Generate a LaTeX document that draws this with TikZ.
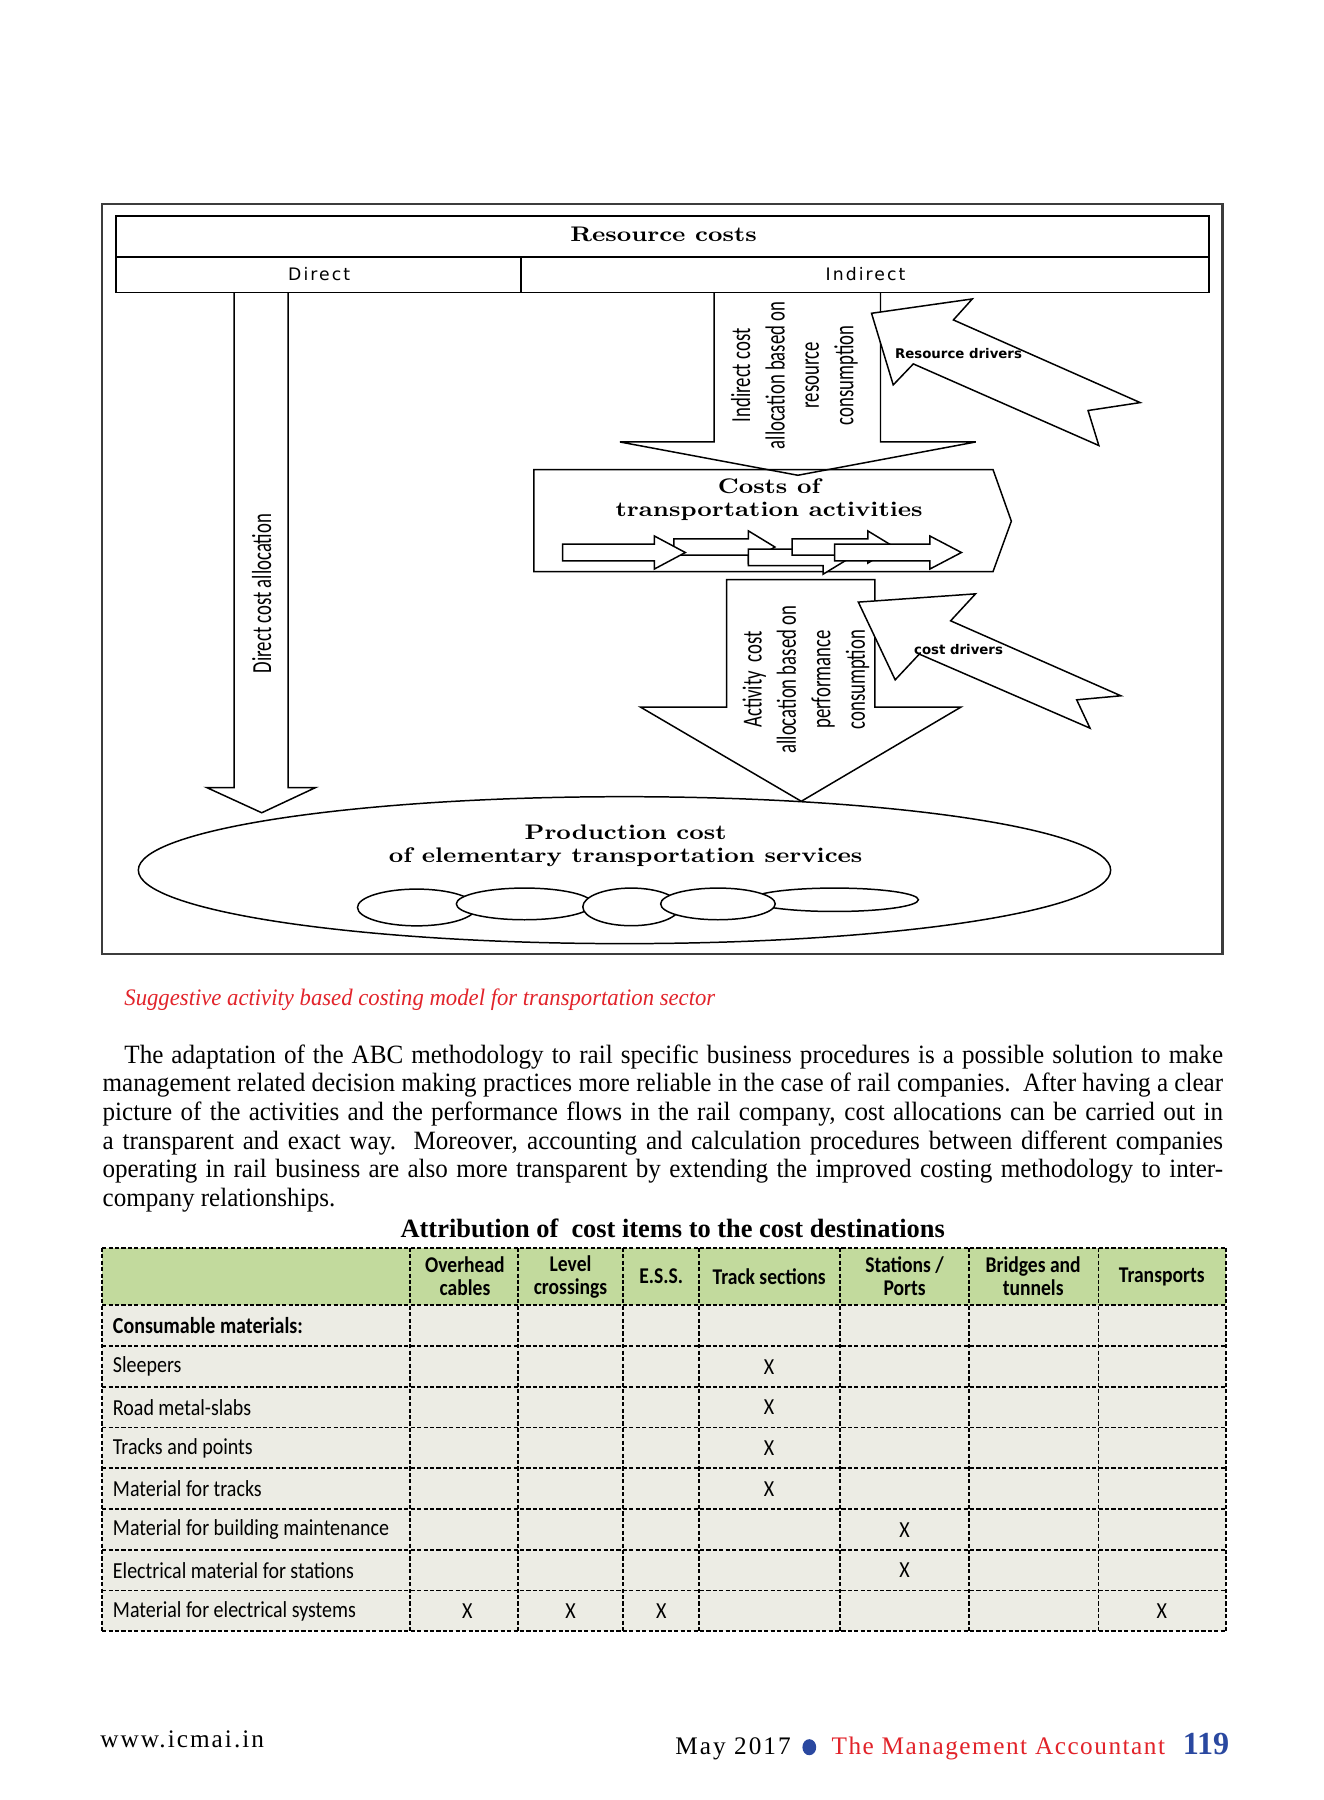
\documentclass[tikz,border=0pt]{standalone}
\usepackage{fontspec}
\newfontfamily\libser{Liberation Serif}
\newfontfamily\bodyser[FakeStretch=0.95]{Liberation Serif}
\newfontfamily\capser[FakeStretch=0.96]{Liberation Serif}
\newfontfamily\libserLS[LetterSpace=8]{Liberation Serif}
\newfontfamily\libserLSb[LetterSpace=6]{Liberation Serif}
\newfontfamily\dvsw[LetterSpace=12]{DejaVu Sans}
\newfontfamily\dvs{DejaVu Sans}
\newfontfamily\wideb[FakeStretch=1.16]{Latin Modern Roman}
\newfontfamily\narrowsans[FakeStretch=0.68]{Carlito}
\newfontfamily\tabsans[FakeStretch=0.87]{Carlito}
\definecolor{capred}{RGB}{226,35,42}
\definecolor{pgblue}{RGB}{42,72,160}
\definecolor{hdrgreen}{RGB}{194,218,157}
\definecolor{rowgrey}{RGB}{236,236,228}
\definecolor{framegrey}{RGB}{60,60,60}
\newcommand{\flowarrow}[6]{%
  \filldraw[wblk] (#1,#4-#5) -- (#2,#4-#5) -- (#2,#4-#6) -- (#3,#4) -- (#2,#4+#6) -- (#2,#4+#5) -- (#1,#4+#5) -- cycle;}
\begin{document}
\begin{tikzpicture}[x=0.5pt,y=-0.5pt,
  blk/.style={draw=black,line width=0.65pt,line join=miter},
  wblk/.style={blk,fill=white},
  boldlbl/.style={font=\wideb\bfseries\fontsize{9.2pt}{10pt}\selectfont,align=center,inner sep=0pt},
  dvlbl/.style={font=\dvsw\fontsize{7.5pt}{9pt}\selectfont,inner sep=0pt},
  rotlbl/.style={font=\narrowsans\fontsize{12pt}{15pt}\selectfont,align=center,rotate=90,inner sep=0pt},
  drvlbl/.style={font=\dvs\bfseries\fontsize{5.8pt}{7pt}\selectfont,inner sep=0pt},
  bodyline/.style={font=\bodyser\fontsize{11.5pt}{12.5pt}\selectfont,anchor=base west,inner sep=0pt},
  tline/.style={dash pattern=on 1.8pt off 1pt,line width=0.75pt},
  hdr/.style={font=\tabsans\bfseries\fontsize{9.8pt}{10pt}\selectfont,align=center,inner sep=0pt},
  rowtxt/.style={font=\tabsans\fontsize{10pt}{12pt}\selectfont,anchor=west,inner sep=0pt},
  xmark/.style={font=\tabsans\fontsize{10pt}{12pt}\selectfont,inner sep=0pt}]

\fill[white] (0,0) rectangle (1153,1568);
\useasboundingbox (0,0) rectangle (1153,1568);

% ---------------- figure ----------------
\draw[framegrey,line width=1pt] (89,178) rectangle (1065,831);
\draw[blk] (101,188) rectangle (1053,255);
\draw[blk] (101,224) -- (1053,224);
\draw[blk] (454,224) -- (454,255);
\node[boldlbl] (rc) at (578,204) {Resource costs};
\node[dvlbl] (dir) at (278,239) {Direct};
\node[dvlbl] (ind) at (754,239) {Indirect};

% direct arrow
\draw[blk] (204,255) -- (204,686) -- (180,686) -- (228,708) -- (275,686) -- (251,686) -- (251,255);
\node[rotlbl] (dca) at (228,517) {Direct cost allocation};

% indirect arrow
\draw[blk] (622,255) -- (622,385) -- (540,385) -- (695,414) -- (850,385) -- (767,385) -- (767,255);
\node[rotlbl] (ica) at (692,327) {Indirect cost\\allocation based on\\resource\\consumption};

% resource drivers arrow
\filldraw[wblk] (759.2,272.9) -- (847,260.4) -- (830.5,278.7) -- (993.2,350.7) -- (947.8,357.6) -- (957.2,388.1) -- (795.6,317) -- (778.1,335.3) -- cycle;
\node[drvlbl] (rd) at (835,308) {Resource drivers};

% activities box
\draw[blk] (465,409) -- (865,409) -- (881,454) -- (865,498) -- (465,498) -- cycle;
\node[boldlbl] (cta) at (670,435) {Costs of\\transportation activities};
\flowarrow{587}{652}{675}{476.5}{7}{14}
\flowarrow{490}{570}{597}{481.3}{7.3}{14.4}
\flowarrow{652}{717}{741}{485.6}{7.2}{14.6}
\flowarrow{690}{756}{779}{476.5}{7}{14}
\flowarrow{727}{810}{837.5}{481.3}{7.3}{14.4}

% activity arrow
\draw[blk] (633,505) -- (762,505) -- (762,616) -- (837,616) -- (698,698) -- (558,616) -- (633,616) -- cycle;
\node[rotlbl] (aca) at (702,592) {Activity\ \ cost\\allocation based on\\performance\\consumption};

% cost drivers arrow
\filldraw[wblk] (747.7,524.5) -- (849.8,517.3) -- (828.1,540.8) -- (976.4,606.1) -- (937.9,609.6) -- (949.5,634.3) -- (800.8,569.8) -- (779.8,592.2) -- cycle;
\node[drvlbl] (cd) at (835,566) {cost drivers};

% production ellipse
\filldraw[wblk] (544,758) ellipse [x radius=423.5, y radius=64];
\node[boldlbl] (pc) at (545,737) {Production cost\\of elementary transportation services};
\filldraw[wblk] (363,790.5) ellipse [x radius=51.6, y radius=16];
\filldraw[wblk] (456.9,787.4) ellipse [x radius=59.4, y radius=13.8];
\filldraw[wblk] (549.9,790) ellipse [x radius=42.2, y radius=16.4];
\filldraw[wblk] (727,783.8) ellipse [x radius=73, y radius=10.2];
\filldraw[wblk] (625.4,787.4) ellipse [x radius=49.9, y radius=13.8];

% ---------------- caption & text ----------------
\node[anchor=base west,inner sep=0pt,text=capred,font=\capser\itshape\fontsize{10.3pt}{12pt}\selectfont] (cap) at (108,876) {Suggestive activity based costing model for transportation sector};

\node[bodyline] (p1) at (108,926) {\makebox[478.5pt][s]{The adaptation of the ABC methodology to rail specific business procedures is a possible solution to make}};
\node[bodyline] (p2) at (89,951) {\makebox[488pt][s]{management related decision making practices more reliable in the case of rail companies.\ \ After having a clear}};
\node[bodyline] (p3) at (89,976) {\makebox[488pt][s]{picture of the activities and the performance flows in the rail company, cost allocations can be carried out in}};
\node[bodyline] (p4) at (89,1001) {\makebox[488pt][s]{a transparent and exact way.\ \ Moreover, accounting and calculation procedures between different companies}};
\node[bodyline] (p5) at (89,1026) {\makebox[488pt][s]{operating in rail business are also more transparent by extending the improved costing methodology to inter-}};
\node[bodyline] (p6) at (89,1051) {company relationships.};

\node[inner sep=0pt,font=\libser\bfseries\fontsize{11.5pt}{13pt}\selectfont] (tt) at (586,1070) {Attribution of\ \ cost items to the cost destinations};

% ---------------- table ----------------
\fill[hdrgreen] (89,1087) rectangle (1068,1137);
\fill[rowgrey] (89,1137) rectangle (1068,1421);
\foreach \yy in {1087,1137,1172.5,1208,1243.5,1279,1314.5,1350,1385.5,1421}
  \draw[tline] (89,\yy) -- (1068,\yy);
\foreach \xx in {89,357,451,543,609,732,844,957,1068}
  \draw[tline] (\xx,1087) -- (\xx,1421);

\node[hdr] (h1) at (405,1112) {Overhead\\cables};
\node[hdr] (h2) at (497,1112) {Level\\crossings};
\node[hdr] (h3) at (576,1112) {E.S.S.};
\node[hdr] (h4) at (670,1112) {Track sections};
\node[hdr] (h5) at (788,1112) {Stations /\\Ports};
\node[hdr] (h6) at (900,1112) {Bridges and\\tunnels};
\node[hdr] (h7) at (1012,1112) {Transports};

\node[rowtxt,font=\tabsans\bfseries\fontsize{10pt}{12pt}\selectfont] (r1) at (98,1155) {Consumable materials:};
\node[rowtxt] (r2) at (98,1190.5) {Sleepers};
\node[rowtxt] (r3) at (98,1226) {Road metal-slabs};
\node[rowtxt] (r4) at (98,1261.5) {Tracks and points};
\node[rowtxt] (r5) at (98,1297) {Material for tracks};
\node[rowtxt] (r6) at (98,1332.5) {Material for building maintenance};
\node[rowtxt] (r7) at (98,1368) {Electrical material for stations};
\node[rowtxt] (r8) at (98,1403.5) {Material for electrical systems};

\node[xmark] (x2) at (670,1190.5) {X};
\node[xmark] (x3) at (670,1226) {X};
\node[xmark] (x4) at (670,1261.5) {X};
\node[xmark] (x5) at (670,1297) {X};
\node[xmark] (x6) at (788,1332.5) {X};
\node[xmark] (x7) at (788,1368) {X};
\node[xmark] (x8a) at (407,1403.5) {X};
\node[xmark] (x8b) at (497,1403.5) {X};
\node[xmark] (x8c) at (576,1403.5) {X};
\node[xmark] (x8d) at (1012,1403.5) {X};

% ---------------- footer ----------------
\node[anchor=base west,inner sep=0pt,font=\libserLS\fontsize{11pt}{13pt}\selectfont] (web) at (87,1522) {www.icmai.in};
\node[anchor=base west,inner sep=0pt,font=\libserLS\fontsize{11pt}{13pt}\selectfont] (may) at (588,1528) {May 2017};
\fill[pgblue] (705,1522) ellipse [x radius=6, y radius=7];
\node[anchor=base west,inner sep=0pt,text=capred,font=\libserLSb\fontsize{11pt}{13pt}\selectfont] (tma) at (724,1528) {The Management Accountant};
\node[anchor=base west,inner sep=0pt,text=pgblue,font=\libser\bfseries\fontsize{14pt}{16pt}\selectfont] (pg) at (1030,1528) {119};
\end{tikzpicture}
\end{document}
